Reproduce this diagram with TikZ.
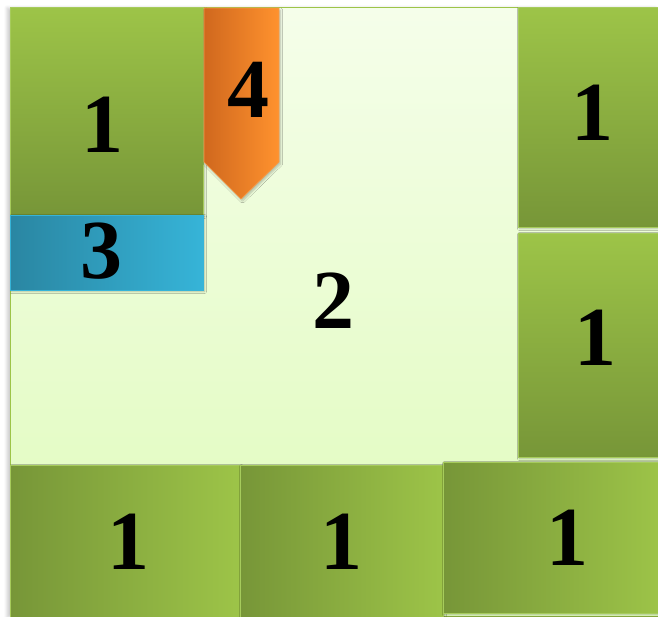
\documentclass[tikz,border=0pt]{standalone}
\usepackage{fontspec}
\setmainfont{Liberation Serif}
\usepackage{tikz}
\usetikzlibrary{shadows.blur}
\usepackage{xcolor}
\definecolor{greenlight}{HTML}{9DC448}
\definecolor{greendark}{HTML}{779638}
\definecolor{greenedge}{HTML}{A6CB5C}
\definecolor{palelight}{HTML}{F5FEEA}
\definecolor{paledark}{HTML}{DFFBBA}
\definecolor{bluedark}{HTML}{2A86A2}
\definecolor{bluelight}{HTML}{36B4D8}
\definecolor{orangedark}{HTML}{D0681E}
\definecolor{orangelight}{HTML}{FF922E}
\definecolor{orangeedge}{HTML}{F59A48}

\begin{document}
\begin{tikzpicture}[x=1pt,y=-1pt]
  \tikzset{tilebox/.style={rectangle,inner sep=0pt,draw=greenedge,line width=0.7pt,
      blur shadow={shadow xshift=1.5pt,shadow yshift=-1.5pt,shadow blur radius=2pt,shadow blur steps=5,shadow opacity=25}}}
  \tikzset{vtile/.style={tilebox,top color=greenlight,bottom color=greendark}}
  \tikzset{htile/.style={tilebox,left color=greendark,right color=greenlight}}
  \tikzset{tilelabel/.style={font=\fontsize{84}{84}\selectfont\bfseries,text=black,inner sep=0pt}}
  \useasboundingbox (0,0) rectangle (658,616);
  \clip (0,0) rectangle (658,616);
  \node[rectangle,inner sep=0pt,draw=greenlight,line width=0.8pt,top color=palelight,bottom color=paledark,
      minimum width=648pt,minimum height=609pt,
      blur shadow={shadow xshift=-3pt,shadow yshift=-1pt,shadow blur radius=3pt,shadow blur steps=5,shadow opacity=20}] (r2) at (334,311.5) {};
  \node[vtile,minimum width=193pt,minimum height=208pt] (t1a) at (106.5,111) {};
  \node[tilebox,draw=bluelight,left color=bluedark,right color=bluelight,minimum width=193pt,minimum height=75pt] (t3) at (106.5,252.5) {};
  \node[vtile,minimum width=144pt,minimum height=220pt] (t1b) at (590,117) {};
  \node[vtile,minimum width=144pt,minimum height=224pt] (t1c) at (590,345) {};
  \node[htile,minimum width=230pt,minimum height=155pt] (t1d) at (125,542.5) {};
  \node[htile,minimum width=203pt,minimum height=155pt] (t1e) at (341.5,542.5) {};
  \node[htile,minimum width=219pt,minimum height=151pt] (t1f) at (552.5,537.5) {};
  \shade[left color=orangedark,right color=orangelight,draw=orangeedge,line width=0.7pt,
      blur shadow={shadow xshift=1.5pt,shadow yshift=-2pt,shadow blur radius=2pt,shadow blur steps=5,shadow opacity=25}]
    (204,8) -- (279,8) -- (279,162) -- (241,199) -- (204,162) -- cycle;
  \node[tilelabel] (l2) at (333.5,301) {2};
  \node[tilelabel] (l1a) at (102.5,124.5) {1};
  \node[tilelabel] (l3) at (101,251) {3};
  \node[tilelabel] (l4) at (248,89.5) {4};
  \node[tilelabel] (l1b) at (592.5,112.5) {1};
  \node[tilelabel] (l1c) at (595,337.5) {1};
  \node[tilelabel] (l1d) at (128.5,541.5) {1};
  \node[tilelabel] (l1e) at (341,541.5) {1};
  \node[tilelabel] (l1f) at (567,537.5) {1};
\end{tikzpicture}
\end{document}
